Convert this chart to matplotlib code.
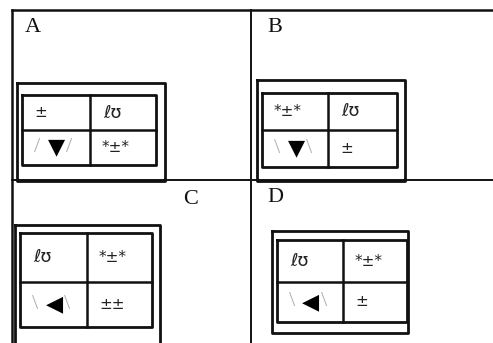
import matplotlib
matplotlib.use("Agg")
import matplotlib.pyplot as plt

panel_labels = ["A", "B", "C", "D"]
cells_A = [["±", "ℓʊ"], ["/▼/", "*±*"]]
cells_B = [["*±*", "ℓʊ"], ["\\▼\\", "±"]]
cells_C = [["ℓʊ", "*±*"], ["\\◀\\", "±±"]]
cells_D = [["ℓʊ", "*±*"], ["\\◀\\", "±"]]
panel_cells = [cells_A, cells_B, cells_C, cells_D]

# layout (pixel coordinates)
label_pos = [(25, 28), (267, 28), (183, 199), (267, 198)]
outer_boxes = [(17, 83, 165, 181), (257, 80, 405, 181), (15, 225, 160, 345), (272, 231, 408, 333)]
inner_grids = [(22, 95, 90, 156, 130, 165), (262, 93, 328, 397, 130, 167),
               (20, 233, 87, 152, 282, 327), (277, 240, 343, 407, 282, 322)]

FAM = ["Liberation Serif", "DejaVu Serif"]
SANS = ["DejaVu Sans"]
fig = plt.figure(figsize=(4.93, 3.43), dpi=100)
ax = fig.add_axes([0, 0, 1, 1])
ax.set_xlim(0, 493)
ax.set_ylim(343, 0)
ax.axis("off")

K = "#111111"
# outer frame and dividers
ax.plot([12, 493], [10, 10], color=K, lw=1.8)
ax.plot([12, 12], [10, 343], color=K, lw=1.8)
ax.plot([251, 251], [10, 343], color=K, lw=1.4)
ax.plot([12, 493], [180, 180], color=K, lw=1.4)

def box(x0, y0, x1, y1, lw=1.6):
    ax.plot([x0, x1, x1, x0, x0], [y0, y0, y1, y1, y0], color=K, lw=lw)

for i, lab in enumerate(panel_labels):
    lx, ly = label_pos[i]
    ax.text(lx, ly, lab, family=FAM, fontsize=16, ha="left", va="center", color="#111111")
    box(*outer_boxes[i], lw=2.0)
    x0, y0, xm, x1, ym, y1 = inner_grids[i]
    box(x0, y0, x1, y1, lw=2.0)
    ax.plot([xm, xm], [y0, y1], color=K, lw=1.8)
    ax.plot([x0, x1], [ym, ym], color=K, lw=1.8)
    cells = panel_cells[i]
    cols = [(x0, xm), (xm, x1)]
    rows = [(y0, ym), (ym, y1)]
    for r in range(2):
        for c in range(2):
            t = cells[r][c]
            cx0, cx1 = cols[c]
            cy = (rows[r][0] + rows[r][1]) / 2
            tx = cx0 + 12
            if len(t) == 3 and t[1] in "▼◀":
                ax.text(tx, cy, t[0], family=FAM, fontsize=16, color="#b0b0b0", ha="left", va="center")
                ax.text(tx + 22, cy, t[1], family=SANS, fontsize=16, color="#000000", ha="center", va="center")
                ax.text(tx + 32, cy, t[2], family=FAM, fontsize=16, color="#b0b0b0", ha="left", va="center")
            elif t == "ℓʊ":
                ax.text(tx + 1, cy, t, family=SANS, fontsize=13, color="#222222", ha="left", va="center")
            else:
                ax.text(tx, cy, t, family=SANS, fontsize=11, color="#222222", ha="left", va="center")

fig.savefig("out.png", dpi=100)
